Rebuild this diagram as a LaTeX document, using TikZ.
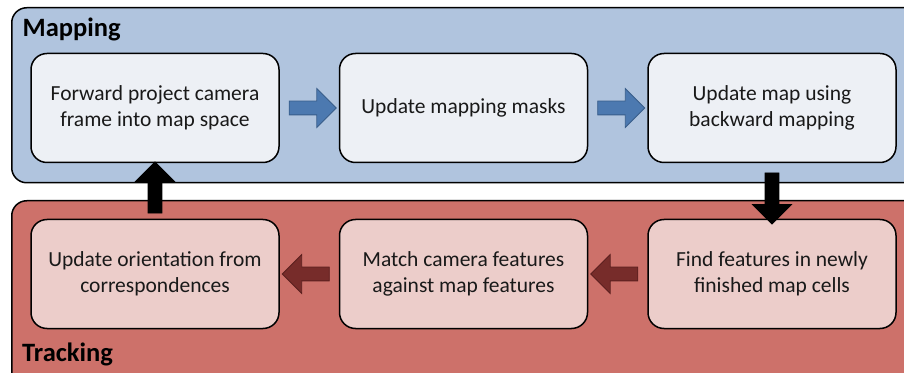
\documentclass[tikz,border=0pt]{standalone}
\usepackage{fontspec}
\setmainfont{Carlito}
\usetikzlibrary{positioning,shapes.arrows}

\definecolor{mapblue}{HTML}{B0C4DE}
\definecolor{mapbox}{HTML}{EDF0F5}
\definecolor{trackred}{HTML}{CD716A}
\definecolor{trackbox}{HTML}{ECCDCA}
\definecolor{bluefill}{HTML}{4C79B0}
\definecolor{blueline}{HTML}{385D8A}
\definecolor{redfill}{HTML}{772C2A}
\definecolor{redline}{HTML}{5A1F1E}

\begin{document}
\begin{tikzpicture}[x=1pt, y=1pt,
				panel/.style={draw, line width=1.5pt, rounded corners=15pt, minimum width=940pt, anchor=north west},
				stage/.style={draw, line width=1.5pt, rounded corners=16pt, minimum width=248pt, minimum height=109pt, align=center, font=\fontsize{21.5}{26}\selectfont, text=black!90},
				paneltitle/.style={font=\fontsize{26.5}{30}\selectfont\bfseries, anchor=base west, inner sep=0pt},
				blockarrow/.style={single arrow, draw, line width=0.8pt, inner xsep=0pt, inner ysep=6.5pt, minimum height=47pt, minimum width=38pt, single arrow head extend=12.5pt},
				bigarrow/.style={blockarrow, fill=black, minimum height=51pt}
			]
			\useasboundingbox (0,0) rectangle (904,372);
			\clip (0,0) rectangle (904,372);

			% Panels
			\node[panel, fill=mapblue, minimum height=175pt] (mapping) at (11,365) {};
			\node[panel, fill=trackred, minimum height=200pt] (tracking) at (11,172) {};
			\node[paneltitle] (maptitle) at ([xshift=11.5pt, yshift=-30pt]mapping.north west) {Mapping};
			\node[paneltitle] (tracktitle) at (22,11) {Tracking};

			% Mapping
			\node[stage, fill=mapbox] (fwd) at (155,264) {Forward project camera\\frame into map space};
			\node[stage, fill=mapbox, right=59pt of fwd] (masks) {Update mapping masks};
			\node[stage, fill=mapbox, right=59pt of masks] (backward) {Update map using\\backward mapping};

			% Tracking
			\node[stage, fill=trackbox, below=55.5pt of fwd] (orient) {Update orientation from\\correspondences};
			\node[stage, fill=trackbox, below=55.5pt of masks] (match) {Match camera features\\against map features};
			\node[stage, fill=trackbox, below=55.5pt of backward] (find) {Find features in newly\\finished map cells};

			% Arrows
			\path (fwd) -- node[blockarrow, fill=bluefill, draw=blueline] (fwdmasks) {} (masks);
			\path (masks) -- node[blockarrow, fill=bluefill, draw=blueline] (masksback) {} (backward);
			\path (backward) -- node[bigarrow, rotate=-90, xshift=4pt] (backfind) {} (find);
			\path (find) -- node[blockarrow, fill=redfill, draw=redline, rotate=180] (findmatch) {} (match);
			\path (match) -- node[blockarrow, fill=redfill, draw=redline, rotate=180] (matchorient) {} (orient);
			\path (orient) -- node[bigarrow, rotate=90] (orientfwd) {} (fwd);
		\end{tikzpicture}
\end{document}
